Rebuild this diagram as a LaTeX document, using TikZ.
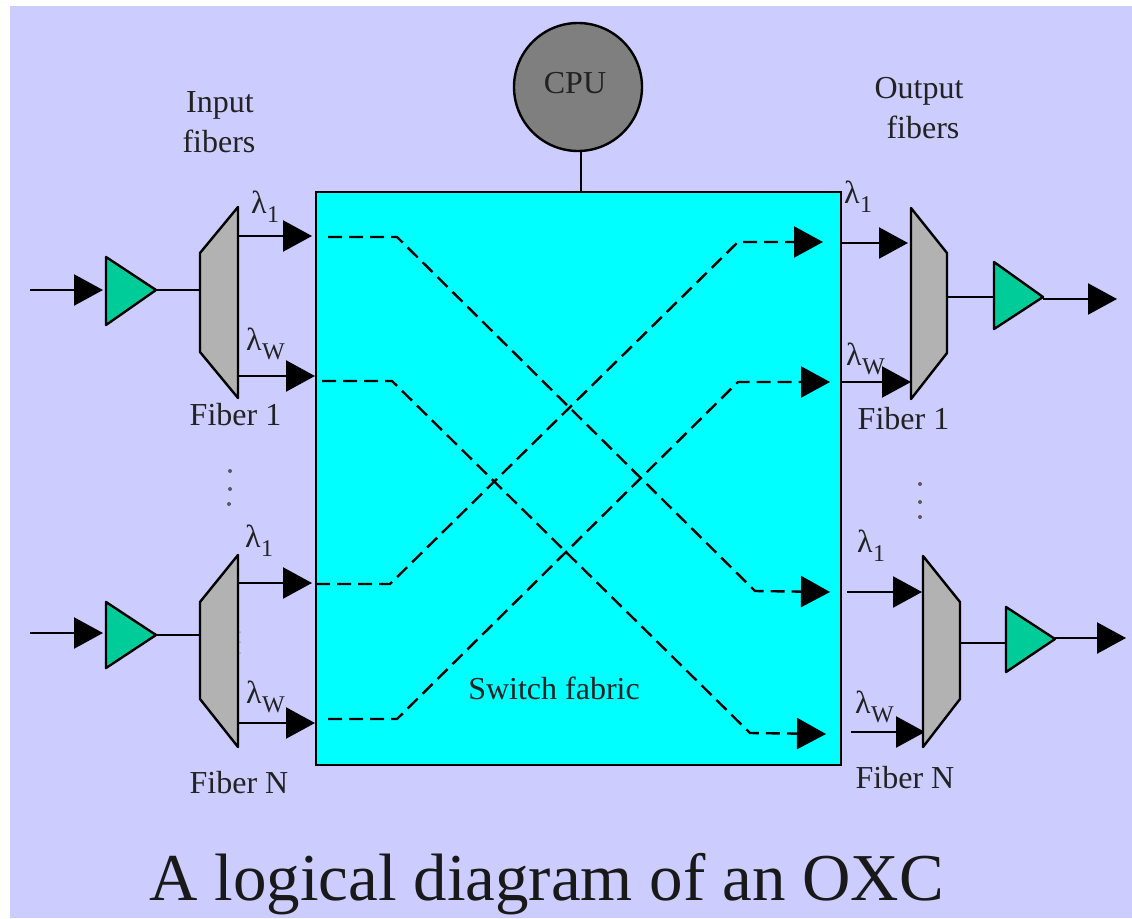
\documentclass[tikz,border=0pt]{standalone}
\usepackage{fontspec}
\setmainfont{Liberation Serif}
\usetikzlibrary{arrows.meta}
\definecolor{bgc}{HTML}{CCCCFF}
\definecolor{fabricc}{HTML}{00FFFF}
\definecolor{ampc}{HTML}{00CC99}
\definecolor{muxc}{HTML}{B2B2B2}
\definecolor{cpuc}{HTML}{7F7F7F}
\definecolor{txt}{HTML}{222222}
\newcommand{\lam}[1]{λ\kern0.5pt\raisebox{-9pt}{\fontsize{24pt}{24pt}\selectfont #1}}
\tikzset{
  wire/.style={line width=2.4pt,draw=black},
  arrowed/.style={wire,-{Triangle[length=29pt,width=31pt,sep=0pt]}},
  dashedlink/.style={line width=2.4pt,draw=black,dash pattern=on 14pt off 7pt,-{Triangle[length=29pt,width=31pt,sep=0pt]},line join=miter},
  ampshape/.style={fill=ampc,draw=black,line width=2.4pt,line join=round},
  muxshape/.style={fill=muxc,draw=black,line width=2.4pt,line join=round},
  label/.style={anchor=base,inner sep=0pt,text=txt,font=\fontsize{32pt}{32pt}\selectfont},
  lamlabel/.style={anchor=base west,inner sep=0pt,text=txt,font=\fontsize{32pt}{32pt}\selectfont},
  dotmark/.style={circle,fill=black!65,inner sep=0pt,minimum size=4pt},
  faintdot/.style={circle,fill=black!35,inner sep=0pt,minimum size=2pt}
}
\begin{document}
\begin{tikzpicture}[x=1pt,y=-1pt]
\useasboundingbox (0,0) rectangle (1132,918);
\fill[white] (0,0) rectangle (1132,918);
\fill[bgc] (10,6) rectangle (1132,918);

% switch fabric and CPU
\node[draw=black,fill=fabricc,line width=2.4pt,minimum width=525pt,minimum height=573pt,inner sep=0pt] (fabric) at (578.5,478.5) {};
\node[circle,draw=black,fill=cpuc,line width=2.4pt,minimum size=128pt,inner sep=0pt] (cpu) at (578,87) {};
\coordinate (cpulink) at (581,170);
\draw[wire] (cpulink |- cpu.south) -- (cpulink |- fabric.north);
\node[label] (cputext) at (575,93) {CPU};
\node[label] (swtext) at (554,699) {Switch fabric};

% faint dots partly hidden behind the lower left demultiplexer
\node[faintdot] (fd1) at (240,632) {};
\node[faintdot] (fd2) at (240,642) {};
\node[faintdot] (fd3) at (240,653) {};

% left side shapes
\coordinate (dmA1) at (200,253); \coordinate (dmA2) at (238,207); \coordinate (dmA3) at (238,398); \coordinate (dmA4) at (200,352);
\coordinate (dmB1) at (200,602); \coordinate (dmB2) at (238,555); \coordinate (dmB3) at (238,747); \coordinate (dmB4) at (200,699);
\coordinate (amA1) at (106,257); \coordinate (amA2) at (156,290); \coordinate (amA3) at (106,325);
\coordinate (amB1) at (106,602); \coordinate (amB2) at (156,635); \coordinate (amB3) at (106,668);
% right side shapes
\coordinate (muA1) at (911,208); \coordinate (muA2) at (947,253); \coordinate (muA3) at (947,353); \coordinate (muA4) at (911,399);
\coordinate (muB1) at (923,556); \coordinate (muB2) at (960,602); \coordinate (muB3) at (960,699); \coordinate (muB4) at (923,747);
\coordinate (aoA1) at (994,262); \coordinate (aoA2) at (1043,297); \coordinate (aoA3) at (994,329);
\coordinate (aoB1) at (1006,607); \coordinate (aoB2) at (1055,639); \coordinate (aoB3) at (1006,672);

% free ends
\coordinate (inA) at (30,290); \coordinate (inAt) at (103,290);
\coordinate (inB) at (30,633); \coordinate (inBt) at (103,633);
\coordinate (dA1s) at (239,236); \coordinate (dA1e) at (312,236);
\coordinate (dA2s) at (239,376); \coordinate (dA2e) at (315,376);
\coordinate (dB1s) at (239,583); \coordinate (dB1e) at (312,583);
\coordinate (dB2s) at (239,723); \coordinate (dB2e) at (315,723);
\coordinate (mA1s) at (841,243); \coordinate (mA1e) at (908,243);
\coordinate (mA2s) at (841,382); \coordinate (mA2e) at (911,382);
\coordinate (mB1s) at (847,592); \coordinate (mB1e) at (922,592);
\coordinate (mB2s) at (851,732); \coordinate (mB2e) at (925,732);
\coordinate (outA) at (1117,299); \coordinate (outB) at (1126,638);

% connectors
\draw[arrowed] (inA) -- (inAt);
\draw[arrowed] (inB) -- (inBt);
\draw[wire] (amA2) -- (dmA1 |- amA2);
\draw[wire] (amB2) -- (dmB1 |- amB2);
\draw[arrowed] (dA1s) -- (dA1e);
\draw[arrowed] (dA2s) -- (dA2e);
\draw[arrowed] (dB1s) -- (dB1e);
\draw[arrowed] (dB2s) -- (dB2e);
\draw[arrowed] (mA1s) -- (mA1e);
\draw[arrowed] (mA2s) -- (mA2e);
\draw[arrowed] (mB1s) -- (mB1e);
\draw[arrowed] (mB2s) -- (mB2e);
\draw[wire] (muA2 |- aoA2) -- (aoA1 |- aoA2);
\draw[wire] (muB2 |- 0,643) -- (aoB1 |- 0,643);
\draw[arrowed] (aoA2 |- outA) -- (outA);
\draw[arrowed] (aoB2 |- outB) -- (outB);

% amplifiers and (de)multiplexers
\draw[ampshape] (amA1) -- (amA2) -- (amA3) -- cycle;
\draw[ampshape] (amB1) -- (amB2) -- (amB3) -- cycle;
\draw[ampshape] (aoA1) -- (aoA2) -- (aoA3) -- cycle;
\draw[ampshape] (aoB1) -- (aoB2) -- (aoB3) -- cycle;
\draw[muxshape] (dmA1) -- (dmA2) -- (dmA3) -- (dmA4) -- cycle;
\draw[muxshape] (dmB1) -- (dmB2) -- (dmB3) -- (dmB4) -- cycle;
\draw[muxshape] (muA1) -- (muA2) -- (muA3) -- (muA4) -- cycle;
\draw[muxshape] (muB1) -- (muB2) -- (muB3) -- (muB4) -- cycle;

% dashed routes through the fabric
\coordinate (r1a) at (328,237); \coordinate (r1b) at (397,237); \coordinate (r1c) at (755,591); \coordinate (r1d) at (830,592);
\coordinate (r2a) at (322,381); \coordinate (r2b) at (392,381); \coordinate (r2c) at (750,733); \coordinate (r2d) at (826,734);
\coordinate (r3a) at (316,584); \coordinate (r3b) at (390,584); \coordinate (r3c) at (738,242); \coordinate (r3d) at (823,242);
\coordinate (r4a) at (328,719); \coordinate (r4b) at (397,719); \coordinate (r4c) at (738,382); \coordinate (r4d) at (830,382);
\draw[dashedlink] (r1a) -- (r1b) -- (r1c) -- (r1d);
\draw[dashedlink] (r2a) -- (r2b) -- (r2c) -- (r2d);
\draw[dashedlink] (r3a) -- (r3b) -- (r3c) -- (r3d);
\draw[dashedlink] (r4a) -- (r4b) -- (r4c) -- (r4d);

% labels
\node[label] (t1) at (220,112) {Input};
\node[label] (t2) at (219,152) {fibers};
\node[label] (t3) at (919,98) {Output};
\node[label] (t4) at (923,138) {fibers};
\node[label] (t5) at (235.5,425) {Fiber 1};
\node[label] (t6) at (239,793) {Fiber N};
\node[label] (t7) at (903.5,429) {Fiber 1};
\node[label] (t8) at (905,788) {Fiber N};

\node[lamlabel] (l1) at (251,213) {\lam{1}};
\node[lamlabel] (l2) at (246,350) {\lam{W}};
\node[lamlabel] (l3) at (245,547) {\lam{1}};
\node[lamlabel] (l4) at (246,703) {\lam{W}};
\node[lamlabel] (l5) at (844,203) {\lam{1}};
\node[lamlabel] (l6) at (846,365) {\lam{W}};
\node[lamlabel] (l7) at (857,552) {\lam{1}};
\node[lamlabel] (l8) at (855,713) {\lam{W}};

% vertical ellipses
\node[dotmark] (da1) at (230,471) {};
\node[dotmark] (da2) at (230,489) {};
\node[dotmark] (da3) at (229,504) {};
\node[dotmark] (db1) at (920,484) {};
\node[dotmark] (db2) at (920,502) {};
\node[dotmark] (db3) at (920,517) {};

% title
\node[anchor=base,inner sep=0pt,text=black!90,font=\fontsize{67pt}{67pt}\selectfont] (title) at (546.5,900) {A logical diagram of an OXC};
\end{tikzpicture}
\end{document}
